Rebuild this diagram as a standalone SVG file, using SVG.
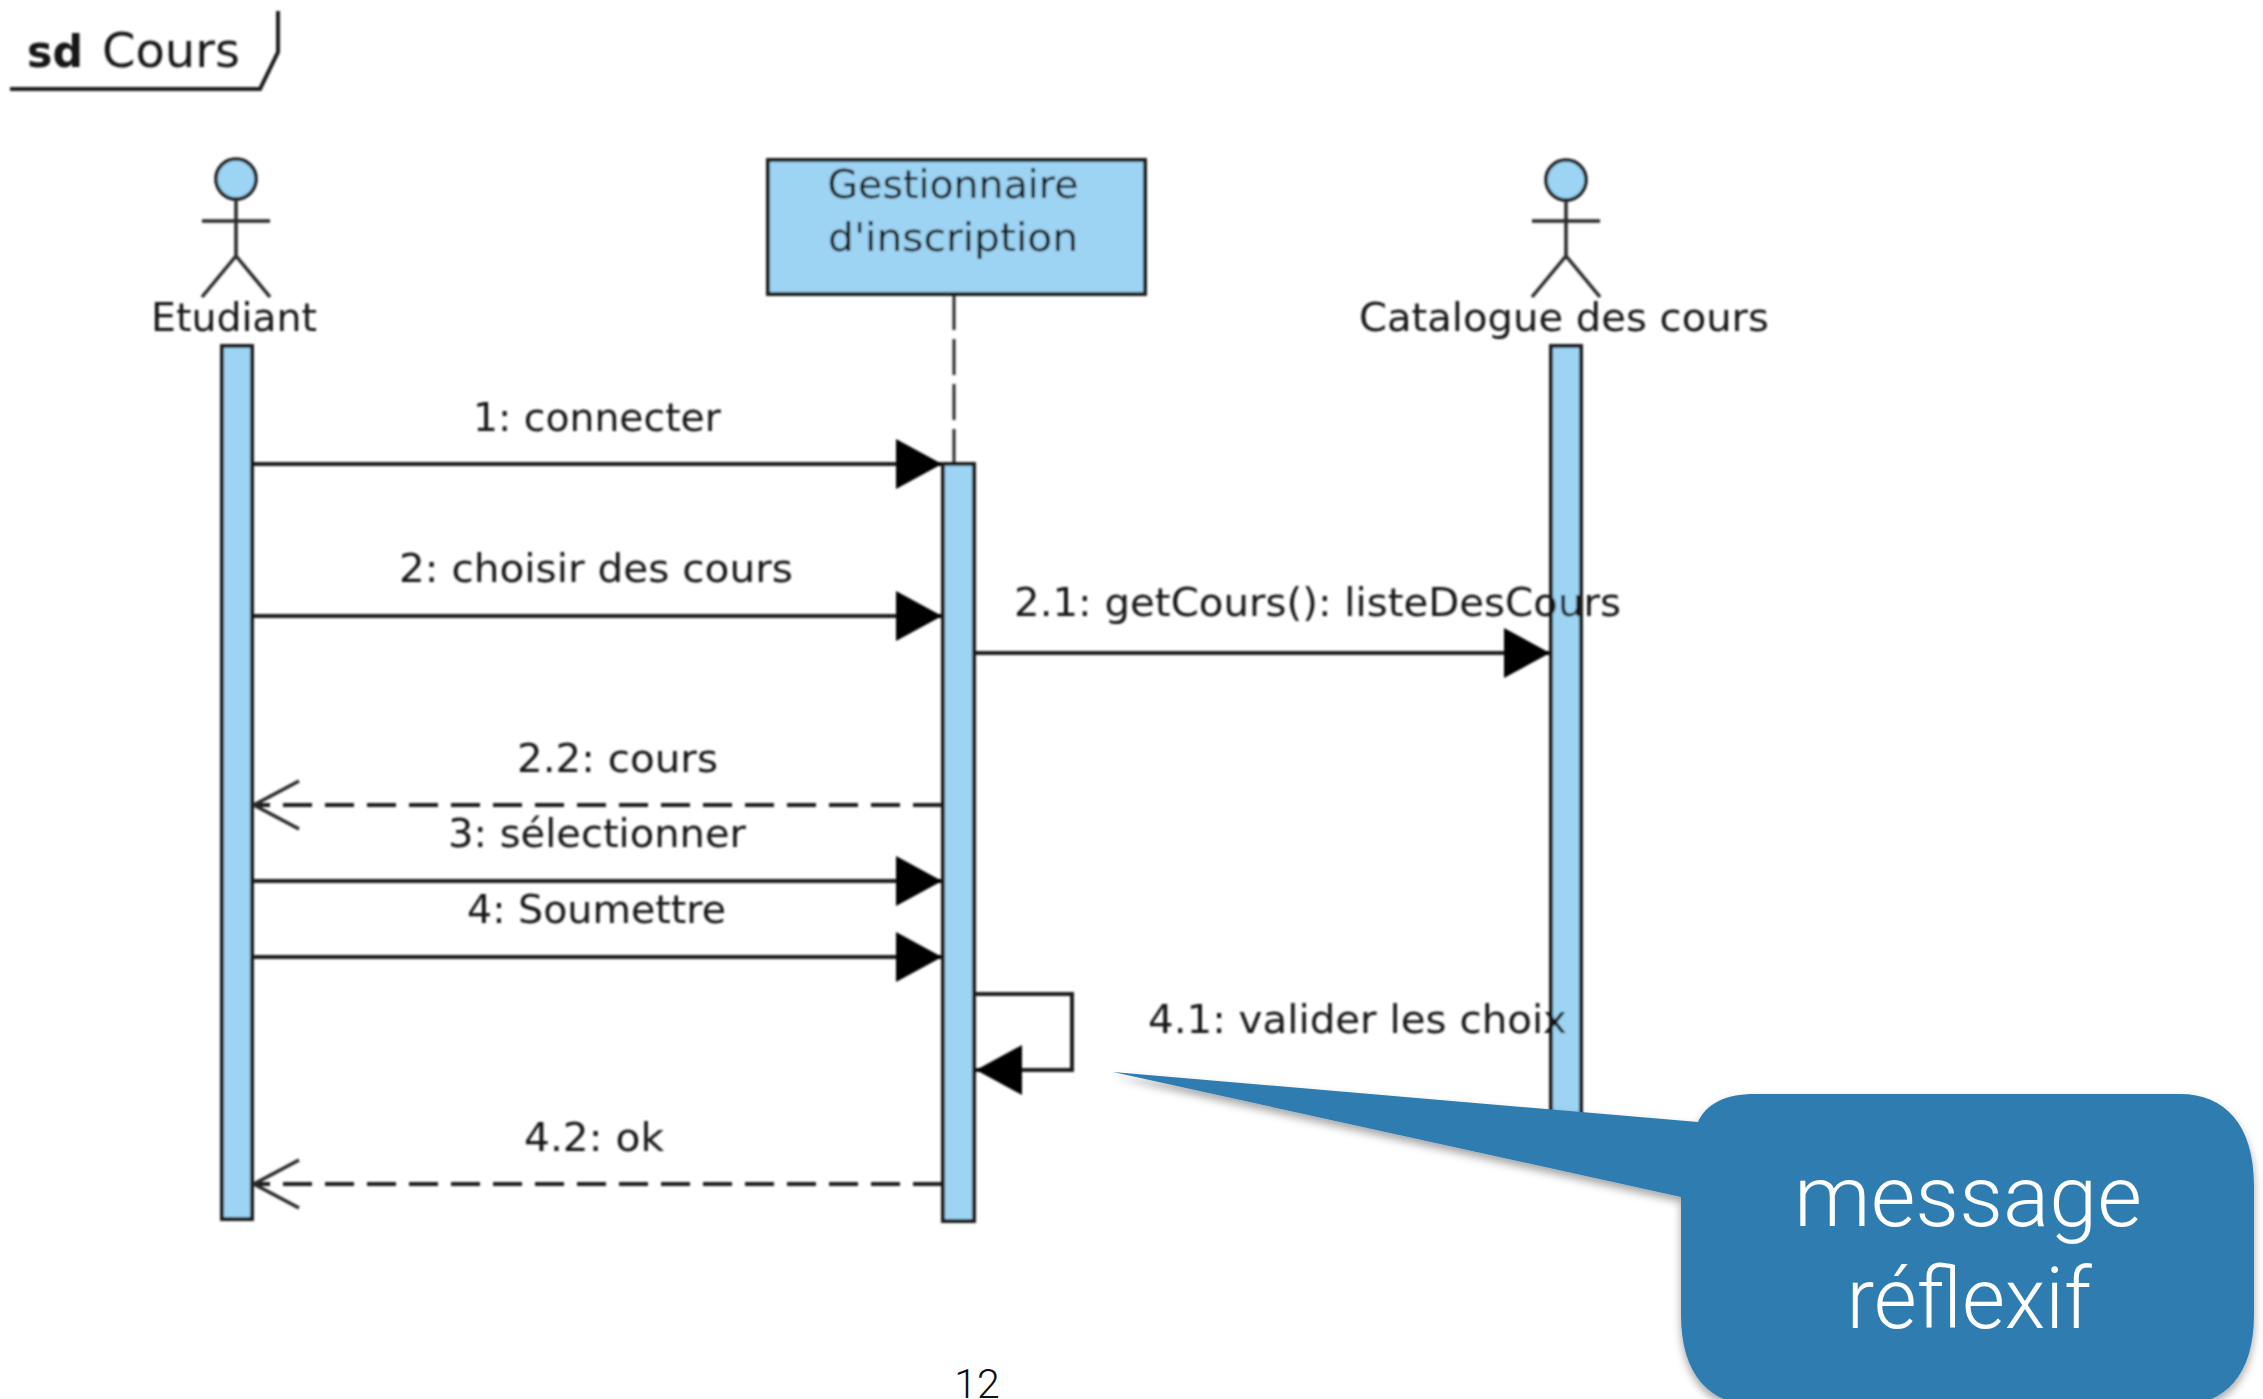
<svg xmlns="http://www.w3.org/2000/svg" width="2263" height="1399" viewBox="0 0 2263 1399">
<style>
.t{font-family:"DejaVu Sans","Liberation Sans",sans-serif;font-size:39px;fill:#161616}
.m{text-anchor:middle}
.s{fill:none;stroke:#1a1a1a;stroke-width:4}
.thin{fill:none;stroke:#2a2a2a;stroke-width:3.5}
.b{fill:#9dd3f3;stroke:#1a1a1a;stroke-width:4}
.c{fill:none;stroke:#1a1a1a;stroke-width:4}
.d{stroke-dasharray:29 13}
.ll{stroke-dasharray:36 9;stroke-width:3}
.w{font-family:"Roboto","Liberation Sans",sans-serif;font-weight:300;font-size:85px;fill:#fff;text-anchor:middle}
</style>
<defs>
<marker id="solid" markerUnits="userSpaceOnUse" markerWidth="48" markerHeight="52" viewBox="0 0 48 52" refX="46" refY="26" orient="auto"><path d="M0 1L46 26L0 51Z" fill="#000"/></marker>
<marker id="open" markerUnits="userSpaceOnUse" markerWidth="50" markerHeight="56" viewBox="0 0 50 56" refX="47" refY="28" orient="auto"><path d="M2 4L47 28L2 52" fill="none" stroke="#2a2a2a" stroke-width="3.5"/></marker>
<filter id="soft" x="-2%" y="-2%" width="104%" height="104%"><feGaussianBlur stdDeviation="0.9"/></filter>
<filter id="shadow" x="-5%" y="-5%" width="110%" height="115%"><feDropShadow dx="0" dy="5" stdDeviation="4" flood-color="#000" flood-opacity="0.35"/></filter>
</defs>
<g filter="url(#soft)">
<g id="frame">
<path class="s" d="M10 89H260L278 52V11"/>
<text class="t" x="27" y="67" style="font-size:44px;font-weight:bold" textLength="56" lengthAdjust="spacingAndGlyphs">sd</text>
<text class="t" x="102" y="67" style="font-size:48px" textLength="138" lengthAdjust="spacingAndGlyphs">Cours</text>
</g>
<g id="etudiant">
<ellipse class="b" cx="236" cy="179" rx="20" ry="20" style="stroke-width:3.5"/>
<path class="thin" d="M236 199V256M202 221H270M202 297L236 256L270 297"/>
<text class="t m" x="234" y="331" textLength="166" lengthAdjust="spacingAndGlyphs">Etudiant</text>
<rect class="b" x="222" y="346" width="30" height="873"/>
</g>
<g id="gestionnaire">
<path class="thin ll" d="M954 294V463"/>
<rect class="b" x="768" y="160" width="377" height="134"/>
<text class="t m" x="953" y="198" textLength="251" lengthAdjust="spacingAndGlyphs">Gestionnaire</text>
<text class="t m" x="953" y="251" textLength="250" lengthAdjust="spacingAndGlyphs">d'inscription</text>
<rect class="b" x="943" y="464" width="31" height="757"/>
</g>
<g id="catalogue">
<ellipse class="b" cx="1566" cy="180" rx="20" ry="20" style="stroke-width:3.5"/>
<path class="thin" d="M1566 200V256M1532 221H1600M1532 297L1566 256L1600 297"/>
<text class="t m" x="1564" y="331" textLength="410" lengthAdjust="spacingAndGlyphs">Catalogue des cours</text>
<rect class="b" x="1551" y="346" width="30" height="790"/>
</g>
<g id="connectors">
<path class="c" d="M252 464H942" marker-end="url(#solid)"/>
<path class="c" d="M252 616H942" marker-end="url(#solid)"/>
<path class="c" d="M974 653H1550" marker-end="url(#solid)"/>
<path class="c d" d="M942 805H254" marker-end="url(#open)"/>
<path class="c" d="M252 881H942" marker-end="url(#solid)"/>
<path class="c" d="M252 957H942" marker-end="url(#solid)"/>
<path class="c" d="M976 994H1072V1070H976" marker-end="url(#solid)"/>
<path class="c d" d="M942 1184H254" marker-end="url(#open)"/>
<text class="t" x="473" y="431" textLength="248" lengthAdjust="spacingAndGlyphs">1: connecter</text>
<text class="t" x="399" y="582" textLength="394" lengthAdjust="spacingAndGlyphs">2: choisir des cours</text>
<text class="t" x="1014" y="616" textLength="607" lengthAdjust="spacingAndGlyphs">2.1: getCours(): listeDesCours</text>
<text class="t" x="517" y="772" textLength="201" lengthAdjust="spacingAndGlyphs">2.2: cours</text>
<text class="t" x="448" y="847" textLength="298" lengthAdjust="spacingAndGlyphs">3: sélectionner</text>
<text class="t" x="467" y="923" textLength="259" lengthAdjust="spacingAndGlyphs">4: Soumettre</text>
<text class="t" x="1148" y="1033" textLength="419" lengthAdjust="spacingAndGlyphs">4.1: valider les choix</text>
<text class="t" x="524" y="1151" textLength="140" lengthAdjust="spacingAndGlyphs">4.2: ok</text>
</g>
</g>
<g id="callout">
<path filter="url(#shadow)" fill="#2f7cb0" d="M1113 1072L1698 1122C1706 1104 1725 1094 1755 1094H2180C2225 1094 2254 1125 2254 1185V1315C2254 1375 2225 1405 2180 1405H1755C1710 1405 1681 1375 1681 1315V1197Z"/>
<text class="w" x="1968" y="1226" textLength="348" lengthAdjust="spacingAndGlyphs">message</text>
<text class="w" x="1969" y="1328" textLength="245" lengthAdjust="spacingAndGlyphs">réflexif</text>
</g>
<text id="page" x="977" y="1398" font-family="Roboto,'Liberation Sans',sans-serif" font-weight="300" font-size="41" fill="#111" text-anchor="middle">12</text>
</svg>
